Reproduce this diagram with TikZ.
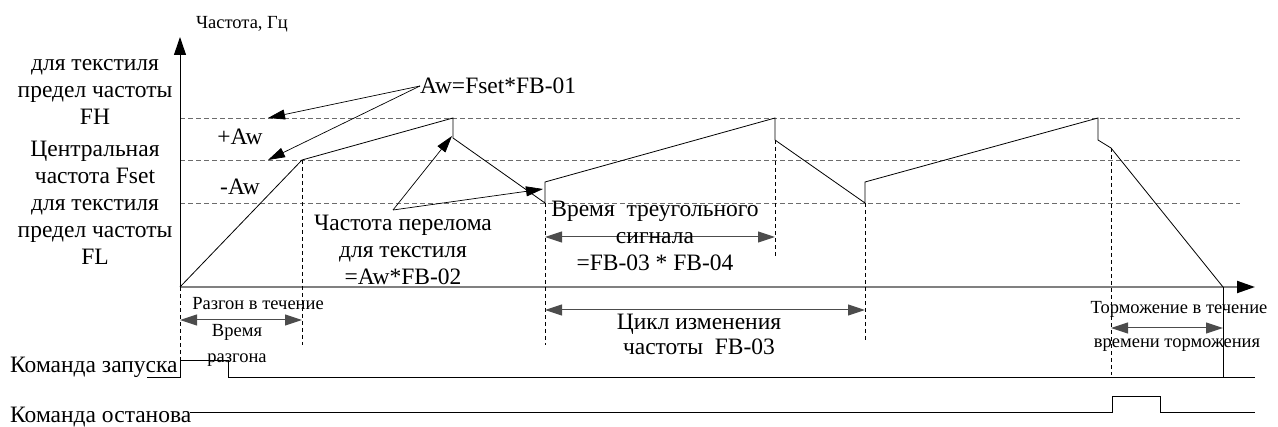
\documentclass[tikz,border=0pt]{standalone}
\usepackage{fontspec}
\setmainfont{Liberation Serif}
\usetikzlibrary{arrows.meta}

\tikzset{
    level/.style={gray!85!black, line width=0.8pt, dash pattern=on 5pt off 3pt},
    guide/.style={black, line width=0.6pt, dash pattern=on 4pt off 3pt},
    span/.style={{Triangle[length=17pt,width=11pt]}-{Triangle[length=17pt,width=11pt]}, gray!60!black, line width=1pt},
    note/.style={-{Triangle[length=17pt,width=10pt]}, line width=0.7pt},
    big/.style={font=\fontsize{23.5}{27}\selectfont, align=center, inner sep=0pt},
    small/.style={font=\fontsize{18.5}{26}\selectfont, align=center, inner sep=0pt}
}

\begin{document}
\begin{tikzpicture}[x=1pt,y=-1pt]
    \useasboundingbox (0,0) rectangle (1278,427);

    \draw[level] (180,118) -- (1240,118);
    \draw[level] (180,160) -- (1240,160);
    \draw[level] (180,203) -- (1240,203);

    \draw[gray, line width=2pt, -{Triangle[length=18pt,width=12pt,color=black]}] (180,287) -- (1255,287);
    \draw[line width=1pt, -{Triangle[length=18pt,width=12pt]}] (180,287) -- (180,37);

    \coordinate (p0) at (180,287);
    \coordinate (p1) at (302,160);
    \coordinate (p2) at (453,118);
    \coordinate (p3) at (453,138);
    \coordinate (p4) at (545,203);
    \coordinate (p5) at (545,182);
    \coordinate (p6) at (775,118);
    \coordinate (p7) at (775,140);
    \coordinate (p8) at (865,203);
    \coordinate (p9) at (865,182);
    \coordinate (p10) at (1098,118);
    \coordinate (p11) at (1098,140);
    \coordinate (p12) at (1111,148);
    \coordinate (p13) at (1223,287);
    \draw[line width=0.8pt] (p0) -- (p1) -- (p2) -- (p3) -- (p4) -- (p5) -- (p6) -- (p7)
        -- (p8) -- (p9) -- (p10) -- (p11) -- (p12) -- (p13);

    \draw[guide] (p0) -- (180,360);
    \draw[guide] (p1) -- (302,345);
    \draw[guide] (p4) -- (545,345);
    \draw[guide] (p7) -- (775,258);
    \draw[guide] (p8) -- (865,340);
    \draw[guide] (p12) -- (1111,375);
    \draw[line width=0.8pt] (p13) -- (1223,377);

    \draw[span] (180,320) -- (302,320);
    \draw[span] (545,237) -- (775,237);
    \draw[span] (545,310) -- (865,310);
    \draw[span] (1111,328) -- (1223,328);

    % signals
    \draw[line width=0.8pt] (147,377) -- (180,377) -- (180,360) -- (228,360) -- (228,377) -- (1255,377);
    \draw[line width=0.8pt] (190,412) -- (1112,412) -- (1112,396) -- (1160,396) -- (1160,412) -- (1255,412);

    \node[small] (freq) at (242,24) {Частота, Гц};
    \node[big] (fh) at (95,92) {для текстиля\\предел частоты\\FH};
    \node[big] (fset) at (95,162) {Центральная\\частота Fset};
    \node[big] (fl) at (95,232) {для текстиля\\предел частоты\\FL};
    \node[big] (plus) at (240,137) {+Aw};
    \node[big] (minus) at (240,187) {-Aw};
    \node[big, anchor=west] (aw) at (420,86) {Aw=Fset*FB-01};
    \node[big] (brk) at (403,250) {Частота перелома\\для текстиля\\=Aw*FB-02};
    \node[big] (tri) at (655,236) {Время\ \ треугольного\\сигнала\\=FB-03 * FB-04};
    \node[big, font=\fontsize{23.5}{25}\selectfont] (cyc) at (699,334) {Цикл изменения\\частоты\ \ FB-03};
    \node[small] (acc) at (258,304) {Разгон в течение};
    \node[small] (acct) at (237,345) {Время\\разгона};
    \node[small] (dec) at (1179,309) {Торможение в течение};
    \node[small] (dect) at (1177,345) {времени торможения};
    \node[big, anchor=west] (run) at (10,367) {Команда запуска};
    \node[big, anchor=west] (stop) at (10,417) {Команда останова};

    \coordinate (apex) at (393,210);
    \draw[note] (aw.west) -- (268,118);
    \draw[note] (aw.west) -- (268,160);
    \draw[note] (apex) -- (452,136);
    \draw[note] (apex) -- (543,189);
\end{tikzpicture}
\end{document}
